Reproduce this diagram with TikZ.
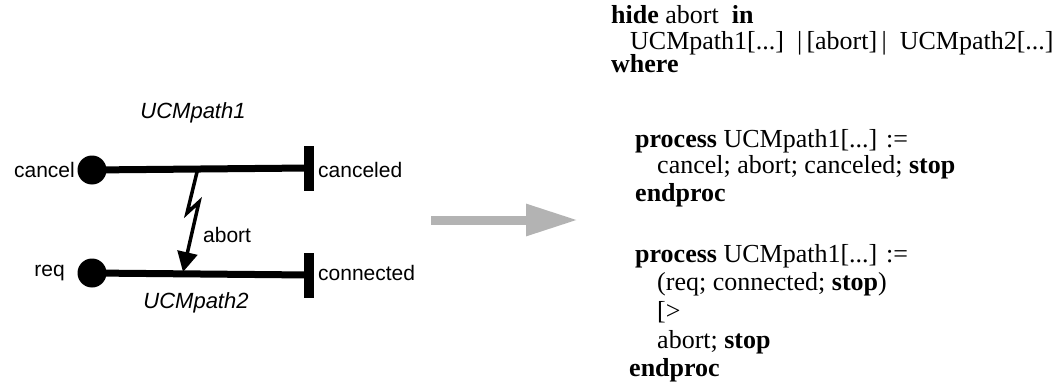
\documentclass[tikz,border=0pt]{standalone}
\usepackage{fontspec}
\setmainfont{Liberation Serif}
\newfontfamily\labelfont{Liberation Sans}
\usetikzlibrary{arrows.meta}
\definecolor{flowgray}{HTML}{B3B3B3}
\tikzset{
  ucmpath/.style={line width=7pt},
  startpt/.style={circle, fill=black, inner sep=0pt, minimum size=29pt},
  endbar/.style={fill=black, inner sep=0pt, minimum width=10pt, minimum height=45pt},
  lbl/.style={font=\labelfont\fontsize{21}{25}\selectfont, inner sep=0pt},
  pathname/.style={font=\labelfont\itshape\fontsize{22}{26}\selectfont, inner sep=0pt},
  abortbolt/.style={line width=3.5pt, line join=miter, -{Triangle[length=20pt,width=20pt]}},
  transform/.style={draw=flowgray, line width=9pt, -{Triangle[length=52pt,width=30pt]}},
  code/.style={font=\fontsize{26}{30}\selectfont, inner sep=0pt, anchor=base west},
}
\begin{document}
\begin{tikzpicture}[x=1pt,y=-1pt]
\useasboundingbox (0,0) rectangle (1057,385);

% path 1: cancel -> canceled
\node[startpt] (cancel) at (92,170) {};
\node[endbar] (canceled) at (309,168) {};
\draw[ucmpath] (cancel.center) -- (canceled.center);
\node[lbl, anchor=east] (cancelTxt) at (75,170) {cancel};
\node[lbl, anchor=west] (canceledTxt) at (318,170) {canceled};
\node[pathname] (p1name) at (193,113) {UCMpath1};

% path 2: req -> connected
\node[startpt] (req) at (92,273) {};
\node[endbar] (connected) at (309,275) {};
\draw[ucmpath] (req.center) -- (connected.center);
\node[lbl, anchor=east] (reqTxt) at (65,273) {req};
\node[lbl, anchor=west] (connectedTxt) at (318,273) {connected};
\node[pathname] (p2name) at (196,303) {UCMpath2};

% abort interaction between the paths
\coordinate (abortFrom) at (198,168);
\coordinate (abortTo) at (183,272);
\draw[abortbolt] (abortFrom) -- (187,213) -- (199,202) -- (abortTo);
\node[lbl, anchor=west] (abortTxt) at (203,235) {abort};

% transformation arrow
\coordinate (mapFrom) at (431,220);
\coordinate (mapTo) at (578,220);
\draw[transform] (mapFrom) -- (mapTo);

% LOTOS specification
\node[code] (l1) at (611,24) {\textbf{hide} abort\ \ \textbf{in}};
\node[code] (l2) at (630,50) {UCMpath1[...]\ \ |\,[abort]\,|\ \ UCMpath2[...]};
\node[code] (l3) at (611,73) {\textbf{where}};
\node[code] (l4) at (635,147) {\textbf{process} UCMpath1[...] :=};
\node[code] (l5) at (657,173) {cancel; abort; canceled; \textbf{stop}};
\node[code] (l6) at (635,201) {\textbf{endproc}};
\node[code] (l7) at (635,262) {\textbf{process} UCMpath1[...] :=};
\node[code] (l8) at (657,290) {(req; connected; \textbf{stop})};
\node[code] (l9) at (657,319) {[>};
\node[code] (l10) at (657,348) {abort; \textbf{stop}};
\node[code] (l11) at (629,376) {\textbf{endproc}};
\end{tikzpicture}
\end{document}
